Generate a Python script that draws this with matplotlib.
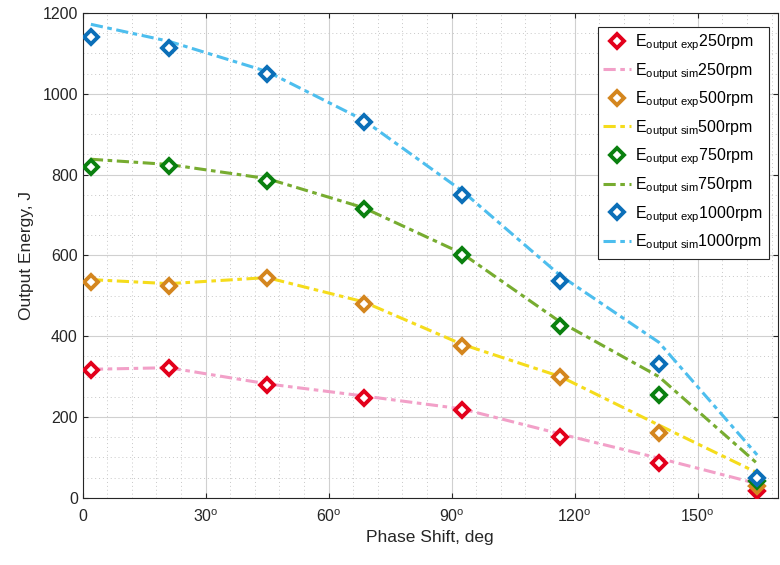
import matplotlib.pyplot as plt
from matplotlib.ticker import MultipleLocator, FixedLocator

plt.rcParams['font.family'] = 'Liberation Sans'
plt.rcParams['mathtext.fontset'] = 'custom'
plt.rcParams['mathtext.rm'] = 'Liberation Sans'
plt.rcParams['mathtext.it'] = 'Liberation Sans'

phase = [2, 21, 45, 68.5, 92.5, 116.5, 140.5, 164.5]

exp_250 = [317, 320, 280, 248, 218, 150, 87, 17]
sim_250 = [318, 322, 282, 252, 220, 158, 98, 35]
exp_500 = [535, 525, 545, 480, 375, 298, 160, 30]
sim_500 = [540, 530, 545, 485, 380, 300, 180, 62]
exp_750 = [820, 822, 785, 715, 600, 425, 255, 42]
sim_750 = [838, 825, 790, 718, 605, 435, 300, 85]
exp_1000 = [1140, 1113, 1050, 930, 750, 537, 330, 50]
sim_1000 = [1172, 1130, 1055, 935, 760, 550, 385, 106]

speeds = ['250rpm', '500rpm', '750rpm', '1000rpm']
exp_data = [exp_250, exp_500, exp_750, exp_1000]
sim_data = [sim_250, sim_500, sim_750, sim_1000]
exp_colors = ['#e3001b', '#d4861e', '#0a800f', '#0b6fb8']
sim_colors = ['#f2a0c8', '#f5dc1c', '#77ac30', '#4dbeee']

fig = plt.figure(figsize=(7.8, 5.65), dpi=100)
ax = fig.add_axes([0.106, 0.119, 0.891, 0.858])

for spd, e, s, ce, cs in zip(speeds, exp_data, sim_data, exp_colors, sim_colors):
    ax.plot(phase, e, linestyle='none', marker='D', markersize=7,
            markerfacecolor='white', markeredgecolor=ce, markeredgewidth=2.8,
            label=r'E$_{\mathrm{output\ exp}}$' + spd, zorder=4)
    ax.plot(phase, s, linestyle=(0, (4, 1.5, 1.5, 1.5)), linewidth=2.2, color=cs,
            label=r'E$_{\mathrm{output\ sim}}$' + spd, zorder=3)

ax.set_xlim(0, 169.5)
ax.set_ylim(0, 1200)
ax.xaxis.set_major_locator(FixedLocator([0, 30, 60, 90, 120, 150]))
ax.set_xticklabels(['0', r'30$^{\mathrm{o}}$', r'60$^{\mathrm{o}}$', r'90$^{\mathrm{o}}$',
                    r'120$^{\mathrm{o}}$', r'150$^{\mathrm{o}}$'])
ax.xaxis.set_minor_locator(MultipleLocator(6))
ax.yaxis.set_major_locator(MultipleLocator(200))
ax.yaxis.set_minor_locator(MultipleLocator(50))

ax.grid(which='major', color='#d0d0d0', linewidth=0.8)
ax.grid(which='minor', color='#c8c8c8', linewidth=0.7, linestyle=(0, (1, 3)))
ax.set_axisbelow(True)
ax.tick_params(which='both', direction='in', top=True, right=True, colors='#262626',
               labelsize=11.5)
ax.tick_params(which='minor', length=0)
ax.tick_params(axis='x', pad=8)
for sp in ax.spines.values():
    sp.set_color('#262626')

ax.set_xlabel('Phase Shift, deg', fontsize=12.5, color='#262626', labelpad=3)
ax.set_ylabel('Output Energy, J', fontsize=12.5, color='#262626', labelpad=6)

leg = ax.legend(loc='upper right', fontsize=11.5, frameon=True, fancybox=False,
                edgecolor='#262626', framealpha=1, handlelength=1.7,
                handletextpad=0.3, borderpad=0.35, labelspacing=0.5,
                bbox_to_anchor=(0.9985, 0.988))
leg.get_frame().set_linewidth(0.8)

fig.savefig('out.png', dpi=100)
